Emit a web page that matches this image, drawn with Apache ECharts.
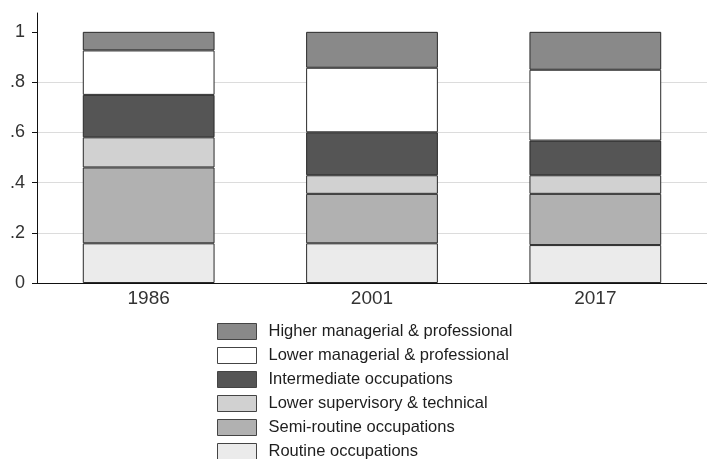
<!DOCTYPE html>
<html>
<head>
<meta charset="utf-8">
<script src="https://cdn.jsdelivr.net/npm/echarts@6/dist/echarts.min.js"></script>
<style>
  html, body { margin: 0; padding: 0; background: #fff; }
  #chart { width: 707px; height: 459px; }
</style>
</head>
<body>
<div id="chart"></div>
<script>
// survey years
const years = ['1986', '2001', '2017'];

// shares, bottom of the stack first
const routine = [0.158, 0.158, 0.151];
const semiRoutine = [0.302, 0.197, 0.204];
const lowerSupervisory = [0.120, 0.074, 0.074];
const intermediate = [0.169, 0.171, 0.138];
const lowerManagerial = [0.177, 0.257, 0.282];
const higherManagerial = [0.074, 0.143, 0.151];

const yTicks = [0, 0.2, 0.4, 0.6, 0.8, 1];

const groups = [
  { name: 'Routine occupations', data: routine, color: '#ebebeb' },
  { name: 'Semi-routine occupations', data: semiRoutine, color: '#b1b1b1' },
  { name: 'Lower supervisory & technical', data: lowerSupervisory, color: '#d1d1d1' },
  { name: 'Intermediate occupations', data: intermediate, color: '#555555' },
  { name: 'Lower managerial & professional', data: lowerManagerial, color: '#ffffff' },
  { name: 'Higher managerial & professional', data: higherManagerial, color: '#898989' }
];

const font = "'Liberation Sans', Arial, sans-serif";

const chart = echarts.init(document.getElementById('chart'));

chart.setOption({
  animation: false,
  grid: { left: 37, right: -4, top: 13, bottom: 176, containLabel: false },
  legend: {
    orient: 'vertical',
    left: 217,
    top: 323,
    height: 300,
    itemWidth: 39,
    itemHeight: 16,
    itemGap: 7,
    padding: 0,
    icon: 'rect',
    data: groups.map(g => g.name).reverse(),
    itemStyle: { borderColor: '#444', borderWidth: 1 },
    textStyle: { fontFamily: font, fontSize: 16.5, color: '#1e1e1e', padding: [0, 0, 0, 7] }
  },
  xAxis: {
    type: 'category',
    data: years,
    axisLine: { lineStyle: { color: '#111', width: 1 } },
    axisTick: { show: false },
    axisLabel: { fontFamily: font, fontSize: 19, color: '#333', margin: 6 }
  },
  yAxis: {
    type: 'value',
    min: 0,
    max: 1.075,
    axisLine: { show: true, lineStyle: { color: '#111', width: 1 } },
    axisTick: { show: true, length: 5, lineStyle: { color: '#111' }, customValues: yTicks },
    axisLabel: {
      fontFamily: font, fontSize: 18, color: '#333', margin: 12,
      customValues: yTicks,
      formatter: v => v === 0 ? '0' : v === 1 ? '1' : String(v.toFixed(1)).replace(/^0/, '')
    },
    splitLine: { show: true, showMinLine: false, showMaxLine: false, lineStyle: { color: '#dcdcdc', width: 1 } }
  },
  series: groups.map(g => ({
    name: g.name,
    type: 'bar',
    stack: 'total',
    barWidth: '59%',
    data: g.data,
    itemStyle: { color: g.color, borderColor: '#2a2a2a', borderWidth: 1 }
  }))
});
</script>
</body>
</html>
